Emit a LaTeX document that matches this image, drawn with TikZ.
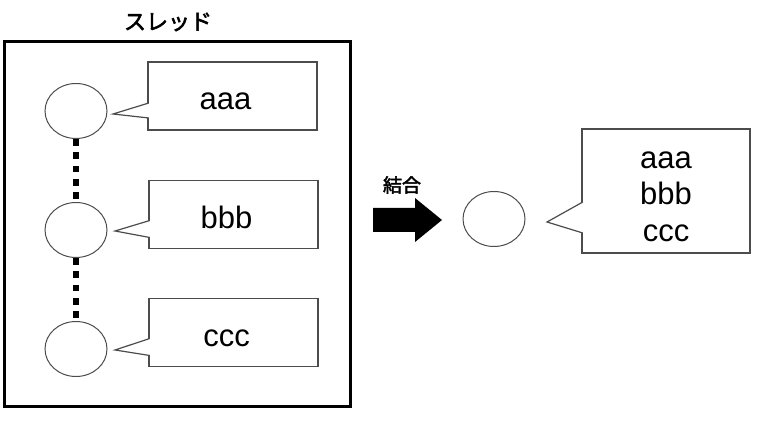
\documentclass[tikz,border=0pt]{standalone}
\usepackage{fontspec}
\setmainfont{Liberation Sans}
\newfontfamily\jpfont{Noto Sans CJK JP}[FakeBold=2.5]
\usetikzlibrary{shapes.geometric}
\pgfdeclarelayer{edgelayer}
\pgfdeclarelayer{nodelayer}
\pgfsetlayers{edgelayer,nodelayer,main}
\tikzstyle{frame}=[rectangle, draw=black, line width=3pt, minimum width=346pt, minimum height=364pt, inner sep=0pt]
\tikzstyle{title}=[font=\jpfont\fontsize{22}{22}\selectfont, inner sep=0pt]
\tikzstyle{ball}=[ellipse, fill=white, draw=black!70, line width=1pt, minimum width=62pt, minimum height=55pt, inner sep=0pt]
\tikzstyle{bubble}=[rectangle, fill=white, draw=black!70, line width=1.2pt, outer sep=0pt, font=\fontsize{31}{36.5}\selectfont]
\tikzstyle{word}=[style=bubble, minimum width=169pt, minimum height=68pt, text height=30pt, text depth=2pt, execute at end node={\hspace*{14pt}}]
\tikzstyle{tail}=[draw=black!70, line width=1.2pt, fill=white]
\tikzstyle{dots}=[draw=black, line width=6.5pt, dash pattern=on 6.7pt off 6.6pt]

\begin{document}
\begin{tikzpicture}[x=1pt, y=-1pt]
	\useasboundingbox (0,0) rectangle (762,427);
	\begin{pgfonlayer}{nodelayer}
		\node [style=frame] (thread) at (177, 224) {};
		\node [style=title] (name) at (168, 22) {スレッド};
		\node [style=ball] (1) at (76, 111) {};
		\node [style=ball] (2) at (76, 230) {};
		\node [style=ball] (3) at (76, 349) {};
		\node [style=word] (a) at (232.5, 96) {aaa};
		\node [style=word] (b) at (233.5, 214.5) {bbb};
		\node [style=word] (c) at (233.5, 332.5) {ccc};
		\node [style=ball] (4) at (494, 219) {};
		\node [style=bubble, minimum width=168pt, minimum height=124pt, align=center] (d) at (666, 191) {\rule{0pt}{28pt}aaa\\bbb\\ccc};
		\node [style=title, font=\jpfont\fontsize{19}{19}\selectfont] (join) at (402, 185) {結合};
	\end{pgfonlayer}
	\coordinate (ta) at (113, 114);
	\coordinate (tb) at (115, 231);
	\coordinate (tc) at (115, 350);
	\coordinate (td) at (547, 222);
	\begin{pgfonlayer}{edgelayer}
		\draw [style=dots] (1) to (2);
		\draw [style=dots] (2) to (3);
	\end{pgfonlayer}
	% speech tails
	\draw [style=tail] ([xshift=0.8pt, yshift=27pt]a.south west) -- (ta) -- ([xshift=0.8pt, yshift=12pt]a.south west);
	\draw [style=tail] ([xshift=0.8pt, yshift=28pt]b.south west) -- (tb) -- ([xshift=0.8pt, yshift=11pt]b.south west);
	\draw [style=tail] ([xshift=0.8pt, yshift=28pt]c.south west) -- (tc) -- ([xshift=0.8pt, yshift=11pt]c.south west);
	\draw [style=tail] ([xshift=0.8pt, yshift=51pt]d.south west) -- (td) -- ([xshift=0.8pt, yshift=20pt]d.south west);
	% join arrow
	\fill (373,208) -- (415,208) -- (415,198) -- (442,220) -- (415,242) -- (415,232) -- (373,232) -- cycle;
\end{tikzpicture}
\end{document}
